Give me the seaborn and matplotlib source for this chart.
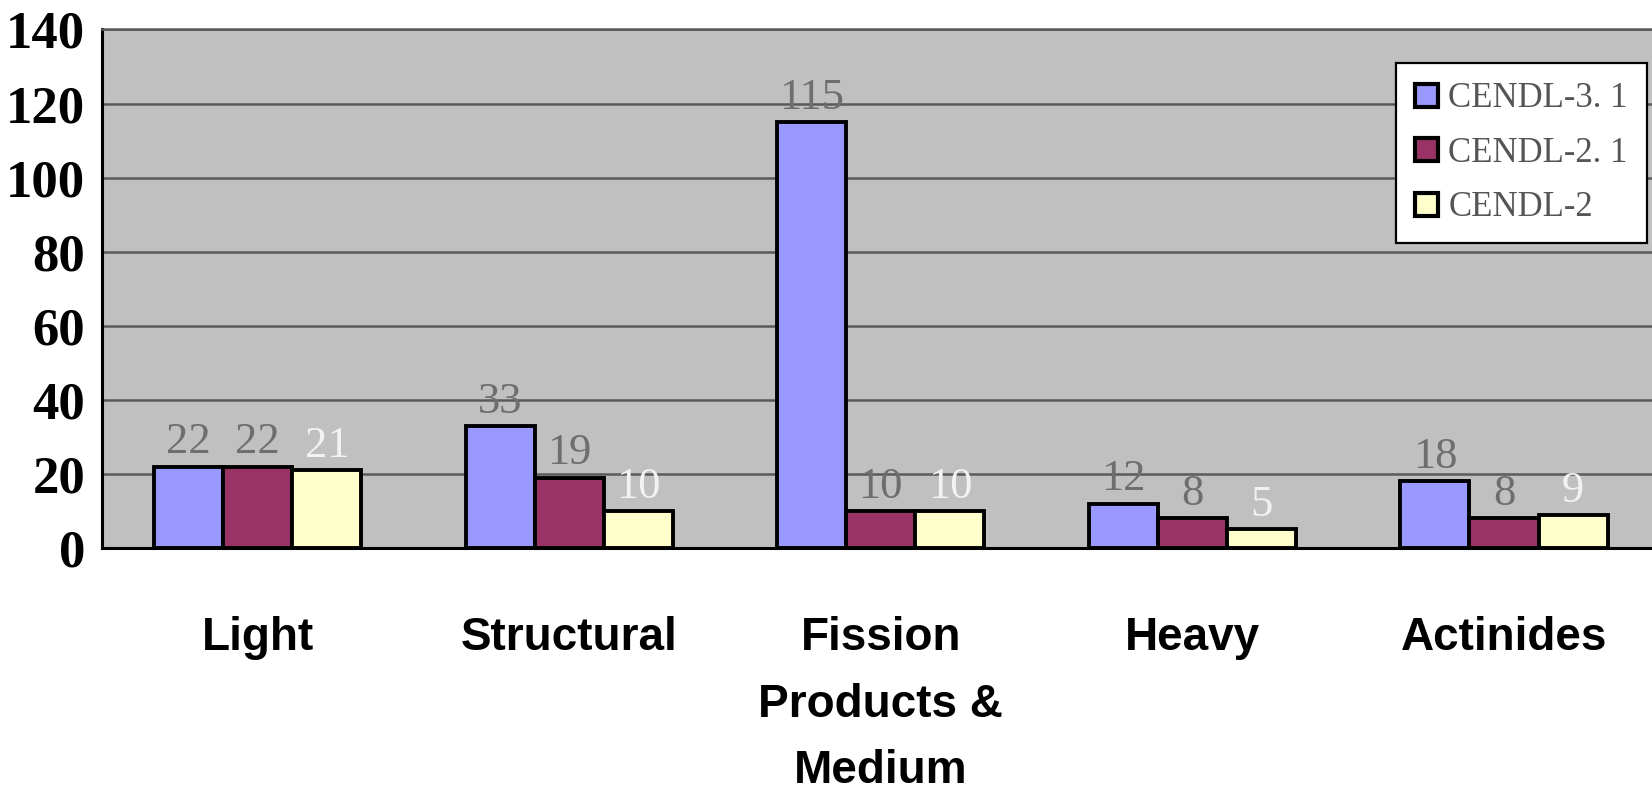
import matplotlib
matplotlib.use("Agg")
import matplotlib.pyplot as plt
import pandas as pd
import seaborn as sns
from matplotlib.patches import Patch
from matplotlib.ticker import FixedLocator

# Nuclide counts per evaluated library, grouped by mass region
categories = ["Light", "Structural", "Fission\nProducts &\nMedium", "Heavy", "Actinides"]
series_names = ["CENDL-3. 1", "CENDL-2. 1", "CENDL-2"]
cendl_31 = [22, 33, 115, 12, 18]
cendl_21 = [22, 19, 10, 8, 8]
cendl_2 = [21, 10, 10, 5, 9]
yticks = [0, 20, 40, 60, 80, 100, 120, 140]

bar_colors = ["#9999ff", "#993366", "#ffffcc"]
value_colors = ["#6e6e6e", "#6e6e6e", "#f2f2f2"]

df = pd.DataFrame({
    "category": categories * 3,
    "series": [s for s in series_names for _ in categories],
    "count": cendl_31 + cendl_21 + cendl_2,
})

sns.set_theme(style="white")
plt.rcParams["font.family"] = ["Liberation Serif", "DejaVu Serif"]
plt.rcParams["text.color"] = "black"
plt.rcParams["xtick.labelcolor"] = "black"
plt.rcParams["ytick.labelcolor"] = "black"

fig = plt.figure(figsize=(16.52, 7.97), dpi=100)
fig.patch.set_facecolor("white")
ax = fig.add_axes([0.0617, 0.3124, 0.943, 0.6506])
ax.set_facecolor("#c0c0c0")

sns.barplot(
    data=df, x="category", y="count", hue="series",
    order=categories, hue_order=series_names,
    palette=bar_colors, saturation=1, width=0.665,
    edgecolor="black", linewidth=2.8, legend=False, ax=ax, zorder=3,
)

ax.set_xlim(-0.5, 4.5)
ax.set_ylim(0, 140)
ax.set_yticks(yticks)
ax.set_xlabel("")
ax.set_ylabel("")

# horizontal gridlines
ax.set_axisbelow(True)
ax.yaxis.grid(True, color="#5a5a5a", linewidth=1.8)
ax.xaxis.grid(False)

for side in ("left", "bottom"):
    ax.spines[side].set_color("black")
    ax.spines[side].set_linewidth(2.2)
ax.spines["top"].set_color("#5a5a5a")
ax.spines["top"].set_linewidth(1.8)
ax.spines["right"].set_visible(False)

ax.tick_params(axis="y", direction="in", length=13, width=2, color="black",
               pad=12, labelcolor="black")
ax.tick_params(axis="x", which="major", length=0, pad=49, labelcolor="black")
ax.xaxis.set_minor_locator(FixedLocator([0.5, 1.5, 2.5, 3.5]))
ax.tick_params(axis="x", which="minor", direction="in", length=12, width=1.5, color="#444444")

for lab in ax.get_yticklabels():
    lab.set_fontfamily("Liberation Serif")
    lab.set_fontweight("bold")
    lab.set_fontsize(38)
    lab.set_color("black")
for lab in ax.get_xticklabels():
    lab.set_fontfamily("Liberation Sans")
    lab.set_fontweight("bold")
    lab.set_fontsize(33)
    lab.set_linespacing(1.66)
    lab.set_verticalalignment("top")
    lab.set_color("black")

# value labels above each bar
for container, col in zip(ax.containers, value_colors):
    ax.bar_label(container, fmt="%d", padding=3, color=col,
                 fontsize=32, fontfamily="Liberation Serif", zorder=4)

handles = [Patch(facecolor=c, edgecolor="black", linewidth=3) for c in bar_colors]
leg = ax.legend(
    handles, series_names, loc="upper right", bbox_to_anchor=(0.9917, 0.935),
    frameon=True, fancybox=False, edgecolor="black", framealpha=1,
    prop={"family": "Liberation Serif", "size": 25},
    handlelength=0.65, handleheight=0.65, handletextpad=0.3,
    labelspacing=0.62, borderpad=0.55, borderaxespad=0,
)
leg.get_frame().set_linewidth(1.6)
for t in leg.get_texts():
    t.set_color("#555555")

fig.savefig("out.png", dpi=100, facecolor="white")
